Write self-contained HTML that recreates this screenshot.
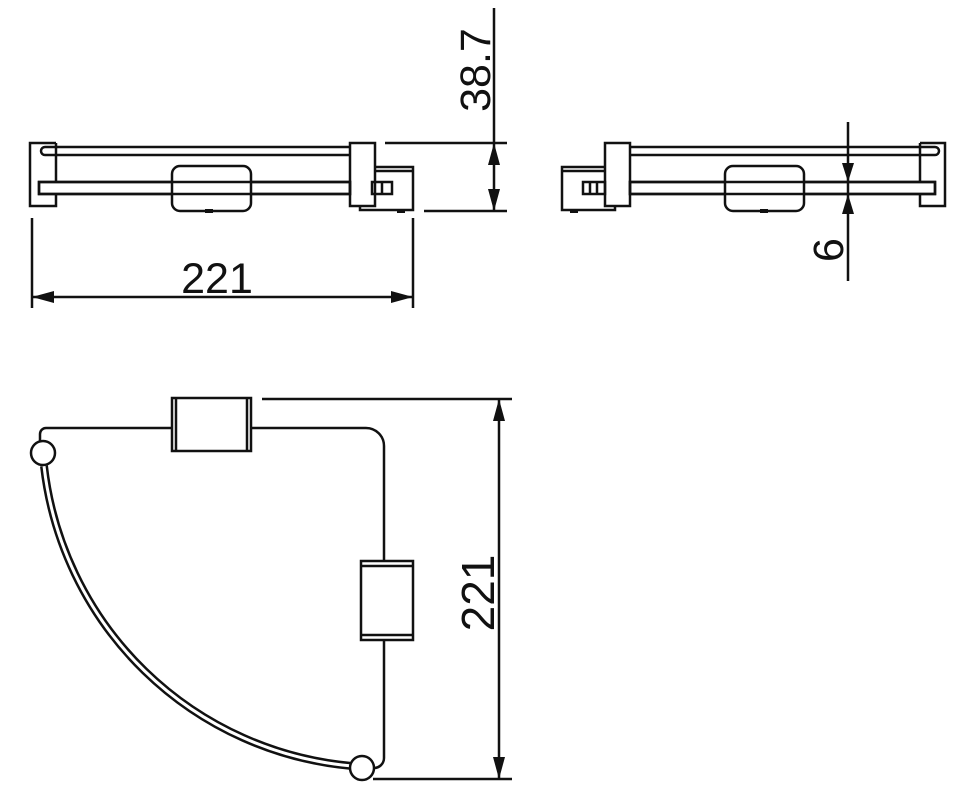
<!DOCTYPE html>
<html><head><meta charset="utf-8"><style>html,body{margin:0;padding:0;background:#fff}svg{display:block}</style></head>
<body>
<svg width="970" height="789" viewBox="0 0 970 789" xmlns="http://www.w3.org/2000/svg" fill="none" stroke="#111" stroke-width="2.5" font-family="Liberation Sans, sans-serif">
<!-- Left side view -->
<path d="M56 143 H30 V206 H56 V194"/>
<path d="M56 143 V182"/>
<path d="M350 147 H45 A4 4 0 0 0 45 155 H350"/>
<rect x="39" y="182" width="311" height="12"/>
<rect x="172" y="166" width="79" height="45" rx="8" fill="#fff"/>
<rect x="39" y="182" width="311" height="12"/>
<path d="M205 211 h8" stroke-width="4"/>
<rect x="350" y="143" width="25" height="63"/>
<path d="M375 167 H413 V210 H360 V206"/>
<path d="M375 171 H413"/>
<rect x="372" y="182" width="20" height="12"/>
<path d="M382 182 V194"/>
<path d="M397 211 h8" stroke-width="4"/>
<!-- dims 38.7 -->
<path d="M385 143 H507 M424 211 H507 M494 8 V211"/>
<polygon points="494,143 488,165 500,165" fill="#111" stroke="none"/>
<polygon points="494,211 488,189 500,189" fill="#111" stroke="none"/>
<text x="490" y="70" transform="rotate(-90 490 70)" text-anchor="middle" font-size="43" fill="#111" stroke="none">38.7</text>
<!-- dim 221 top -->
<path d="M32 218 V308 M413 218 V308 M32 297 H413"/>
<polygon points="32,297 54,291 54,303" fill="#111" stroke="none"/>
<polygon points="413,297 391,291 391,303" fill="#111" stroke="none"/>
<text x="217" y="293" text-anchor="middle" font-size="43" fill="#111" stroke="none">221</text>
<!-- Right side view -->
<path d="M920 143 H945 V206 H920 V194"/>
<path d="M920 143 V182"/>
<path d="M630 147 H935 A4 4 0 0 1 935 155 H630"/>
<rect x="630" y="182" width="305" height="12"/>
<rect x="725" y="166" width="79" height="45" rx="8" fill="#fff"/>
<rect x="630" y="182" width="305" height="12"/>
<path d="M760 211 h8" stroke-width="4"/>
<rect x="605" y="143" width="25" height="63"/>
<path d="M605 167 H562 V210 H615 V206"/>
<path d="M605 171 H562"/>
<rect x="583" y="182" width="22" height="12"/>
<path d="M590 182 V194 M597 182 V194"/>
<path d="M570 211 h8" stroke-width="4"/>
<!-- dim 6 -->
<path d="M848 122 V281"/>
<polygon points="848,182 842,163 854,163" fill="#111" stroke="none"/>
<polygon points="848,194 842,214 854,214" fill="#111" stroke="none"/>
<text x="843" y="250" transform="rotate(-90 843 250)" text-anchor="middle" font-size="43" fill="#111" stroke="none">6</text>
<!-- Top view -->
<path d="M40 442 V434 A6 6 0 0 1 46 428 H172 M251 428 H366 A18 18 0 0 1 384 446 V561 M384 640 V758 A10 10 0 0 1 374 768"/>
<path d="M44 466 A340 340 0 0 0 352 766" stroke-width="8"/>
<path d="M44 466 A340 340 0 0 0 352 766" stroke="#fff" stroke-width="3"/>
<circle cx="43" cy="453" r="12" fill="#fff"/>
<circle cx="362" cy="768" r="12" fill="#fff"/>
<rect x="172" y="398" width="79" height="53" fill="#fff"/>
<path d="M176 398 V451 M247 398 V451"/>
<rect x="361" y="561" width="52" height="79" fill="#fff"/>
<path d="M361 566 H413 M361 635 H413"/>
<!-- dim 221 vertical -->
<path d="M262 399 H512 M373 779 H512 M499 399 V779"/>
<polygon points="499,399 493,421 505,421" fill="#111" stroke="none"/>
<polygon points="499,779 493,757 505,757" fill="#111" stroke="none"/>
<text x="494" y="593" transform="rotate(-90 494 593)" text-anchor="middle" font-size="46" fill="#111" stroke="none">221</text>
</svg>
</body></html>
